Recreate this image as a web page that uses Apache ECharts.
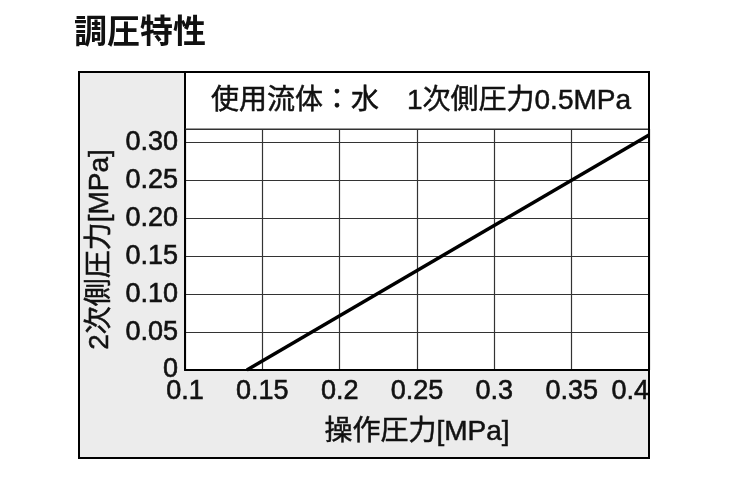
<!DOCTYPE html>
<html>
<head>
<meta charset="utf-8">
<script src="https://cdn.jsdelivr.net/npm/echarts@6/dist/echarts.min.js"></script>
<style>
    html, body { margin: 0; padding: 0; background: #fff; }
    #chart { width: 734px; height: 479px; }
</style>
</head>
<body>
<div id="chart"></div>
<script>
// tick labels as printed on the chart
const xTickLabels = ['0.1', '0.15', '0.2', '0.25', '0.3', '0.35', '0.4'];
const yTickLabels = ['0', '0.05', '0.10', '0.15', '0.20', '0.25', '0.30'];

// operating pressure [MPa] -> secondary pressure [MPa]
const operatingPressure = [0.14, 0.40];
const secondaryPressure = [0.00, 0.31];

const xMin = 0.1, xMax = 0.4, xStep = 0.05;
const yMin = 0, yMax = 0.318, yStep = 0.05;

const textFont = '"Liberation Sans", "Noto Sans CJK JP"';
const titleFont = '"Noto Sans CJK JP", "Liberation Sans"';
const colorText = '#111';
const colorGrid = '#333';
const colorBox = '#ececec';

/**
 * Returns the printed label for a tick, or '' if the tick is not one of them
 */
function tickLabel(labels, min, step) {
    return v => {
        const i = (v - min) / step;
        if (Math.abs(i - Math.round(i)) > 1e-6) return '';
        return labels[Math.round(i)] ?? '';
    };
}

const chart = echarts.init(document.getElementById('chart'));

chart.setOption({
    animation: false,
    graphic: [
        {
            type: 'text',
            left: 74,
            top: 14,
            style: {
                text: '調圧特性',
                font: `bold 33px ${titleFont}`,
                fill: colorText
            }
        },
        {
            type: 'rect',
            z: -10,
            shape: { x: 79, y: 72, width: 570, height: 386 },
            style: { fill: colorBox, stroke: null }
        },
        {
            type: 'rect',
            z: -5,
            shape: { x: 185, y: 72, width: 464, height: 57 },
            style: { fill: '#fff', stroke: null }
        },
        {
            type: 'line',
            z: 50,
            shape: { x1: 185, y1: 72, x2: 185, y2: 130 },
            style: { stroke: '#000', lineWidth: 2 }
        },
        {
            type: 'line',
            z: 50,
            shape: { x1: 185, y1: 129, x2: 649, y2: 129 },
            style: { stroke: colorGrid, lineWidth: 1.2 }
        },
        {
            type: 'text',
            z: 50,
            x: 421,
            y: 101,
            style: {
                text: '使用流体：水　1次側圧力0.5MPa',
                font: `28px ${textFont}`,
                fill: colorText,
                stroke: colorText,
                lineWidth: 0.5,
                align: 'center',
                verticalAlign: 'middle'
            }
        },
        {
            type: 'rect',
            z: 100,
            shape: { x: 79, y: 72, width: 570, height: 386 },
            style: { fill: null, stroke: '#000', lineWidth: 2 }
        }
    ],
    grid: {
        left: 185,
        right: 85,
        top: 129,
        bottom: 109,
        show: true,
        backgroundColor: '#fff',
        borderWidth: 0
    },
    xAxis: {
        type: 'value',
        min: xMin,
        max: xMax,
        interval: xStep,
        name: '操作圧力[MPa]',
        nameLocation: 'middle',
        nameGap: 48,
        nameTextStyle: {
            color: colorText, fontSize: 28, fontFamily: textFont,
            textBorderColor: colorText, textBorderWidth: 0.5
        },
        axisLine: { lineStyle: { color: '#000', width: 2 } },
        axisTick: { show: false },
        axisLabel: {
            color: colorText,
            fontSize: 27,
            fontFamily: textFont,
            textBorderColor: colorText,
            textBorderWidth: 0.6,
            margin: 8,
            alignMaxLabel: 'right',
            formatter: tickLabel(xTickLabels, xMin, xStep)
        },
        splitLine: { lineStyle: { color: colorGrid, width: 1.2 } }
    },
    yAxis: {
        type: 'value',
        min: yMin,
        max: yMax,
        interval: yStep,
        name: '2次側圧力[MPa]',
        nameLocation: 'middle',
        nameGap: 66,
        nameRotate: 90,
        nameTextStyle: {
            color: colorText, fontSize: 28, fontFamily: textFont,
            textBorderColor: colorText, textBorderWidth: 0.5
        },
        axisLine: { show: true, lineStyle: { color: '#000', width: 2 } },
        axisTick: { show: false },
        axisLabel: {
            color: colorText,
            fontSize: 27,
            fontFamily: textFont,
            textBorderColor: colorText,
            textBorderWidth: 0.6,
            margin: 7,
            showMaxLabel: false,
            formatter: tickLabel(yTickLabels, yMin, yStep)
        },
        splitLine: { lineStyle: { color: colorGrid, width: 1.2 } }
    },
    series: [
        {
            type: 'line',
            data: operatingPressure.map((x, i) => [x, secondaryPressure[i]]),
            showSymbol: false,
            lineStyle: { color: '#000', width: 3.5 },
            z: 5
        }
    ]
});
</script>
</body>
</html>
